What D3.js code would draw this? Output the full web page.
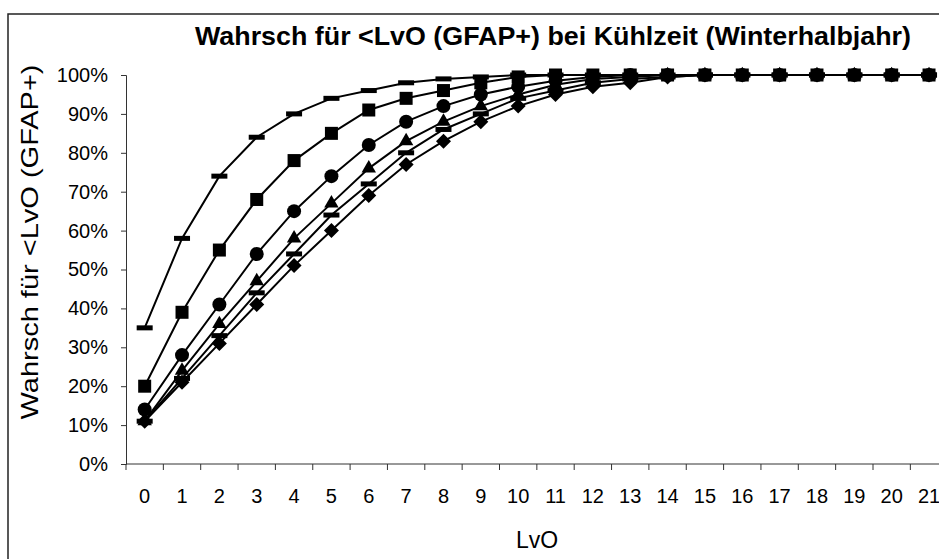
<!DOCTYPE html>
<html><head><meta charset="utf-8">
<script src="https://cdn.jsdelivr.net/npm/d3@7"></script>
<style>body{margin:0;background:#fff;}svg{display:block;font-family:"Liberation Sans",Arial,sans-serif;}</style>
</head><body>
<svg id="chart" width="939" height="559"></svg>
<script>
const categories = d3.range(0, 22);
const seriesDashTop = [35,58,74,84,90,94,96,98,99,99.5,100,100,100,100,100,100,100,100,100,100,100,100];
const seriesSquare  = [20,39,55,68,78,85,91,94,96,98,99.5,100,100,100,100,100,100,100,100,100,100,100];
const seriesCircle  = [14,28,41,54,65,74,82,88,92,95,97,98.5,99.5,100,100,100,100,100,100,100,100,100];
const seriesTriangle= [11,24,36,47,58,67,76,83,88,92,95,97.5,99,99.5,100,100,100,100,100,100,100,100];
const seriesDash2   = [11,22,33,44,54,64,72,80,86,90,94,96,98,99,99.5,100,100,100,100,100,100,100];
const seriesDiamond = [11,21,31,41,51,60,69,77,83,88,92,95,97,98,99.5,100,100,100,100,100,100,100];
const yTicks = [0,10,20,30,40,50,60,70,80,90,100];
const titleText = "Wahrsch für <LvO (GFAP+) bei Kühlzeit (Winterhalbjahr)";
const yTitle = "Wahrsch für <LvO (GFAP+)";
const xTitle = "LvO";

const series = [
  {vals: seriesDiamond, m: "diamond"},
  {vals: seriesDash2, m: "dash"},
  {vals: seriesTriangle, m: "triangle"},
  {vals: seriesCircle, m: "circle"},
  {vals: seriesSquare, m: "square"},
  {vals: seriesDashTop, m: "dash"}
];

const svg = d3.select("#chart");
const plotLeft = 126, step = 37.35, plotTop = 75, plotBottom = 464;
const x = d3.scaleBand().domain(categories).range([plotLeft, plotLeft + step*categories.length]);
const y = d3.scaleLinear().domain([0, 100]).range([plotBottom, plotTop]);
const cx = d => x(d) + x.bandwidth()/2;

// frame
svg.append("rect").attr("x", 8).attr("y", 14).attr("width", 1000).attr("height", 700)
  .attr("fill", "none").attr("stroke", "#222").attr("stroke-width", 1.5);

// y axis
const yAxis = d3.axisLeft(y).tickValues(yTicks).tickFormat(d => d + "%").tickSize(5).tickPadding(13);
const gy = svg.append("g").attr("transform", `translate(${plotLeft},0)`).call(yAxis);
gy.select(".domain").attr("stroke", "#333");
gy.selectAll(".tick line").attr("stroke", "#333");
gy.selectAll("text").attr("font-size", 20).attr("font-family", "Liberation Sans, Arial").attr("fill", "#000");

// x axis
const xAxis = d3.axisBottom(x).tickSize(0).tickPadding(25);
const gx = svg.append("g").attr("transform", `translate(0,${plotBottom})`).call(xAxis);
gx.select(".domain").attr("stroke", "#333").attr("d", `M${plotLeft},0H${plotLeft + step*categories.length}`);
gx.selectAll("text").attr("font-size", 20).attr("font-family", "Liberation Sans, Arial").attr("fill", "#000");
gx.selectAll(".bt").data(d3.range(categories.length + 1)).enter().append("line")
  .attr("x1", i => plotLeft + i*step).attr("x2", i => plotLeft + i*step)
  .attr("y1", 0).attr("y2", 6).attr("stroke", "#333");

// lines & markers
const line = d3.line().x((d,i) => cx(categories[i])).y(d => y(d));
const diamondPath = r => `M0,${-r}L${r},0L0,${r}L${-r},0Z`;
series.forEach(s => {
  svg.append("path").attr("d", line(s.vals)).attr("fill", "none").attr("stroke", "#000").attr("stroke-width", 2);
});
series.forEach(s => {
  const g = svg.append("g");
  s.vals.forEach((v, i) => {
    const px = cx(categories[i]), py = y(v);
    if (s.m === "dash") g.append("rect").attr("x", px-8).attr("y", py-2.5).attr("width", 16).attr("height", 5).attr("fill", "#000");
    else if (s.m === "square") g.append("rect").attr("x", px-6.5).attr("y", py-6.5).attr("width", 13).attr("height", 13).attr("fill", "#000");
    else if (s.m === "circle") g.append("circle").attr("cx", px).attr("cy", py).attr("r", 7).attr("fill", "#000");
    else if (s.m === "triangle") g.append("path").attr("d", d3.symbol(d3.symbolTriangle, 90)()).attr("transform", `translate(${px},${py})`).attr("fill", "#000");
    else if (s.m === "diamond") g.append("path").attr("d", diamondPath(7.5)).attr("transform", `translate(${px},${py})`).attr("fill", "#000");
  });
});

// titles
svg.append("text").attr("x", 195).attr("y", 45).attr("font-size", 25).attr("font-weight", "bold")
  .attr("textLength", 716).attr("lengthAdjust", "spacingAndGlyphs").text(titleText);
svg.append("text").attr("transform", "translate(38,242) rotate(-90)").attr("text-anchor", "middle").attr("font-size", 24)
  .attr("textLength", 355).attr("lengthAdjust", "spacingAndGlyphs").text(yTitle);
svg.append("text").attr("x", 537).attr("y", 548).attr("text-anchor", "middle").attr("font-size", 23).text(xTitle);
</script>
</body></html>
